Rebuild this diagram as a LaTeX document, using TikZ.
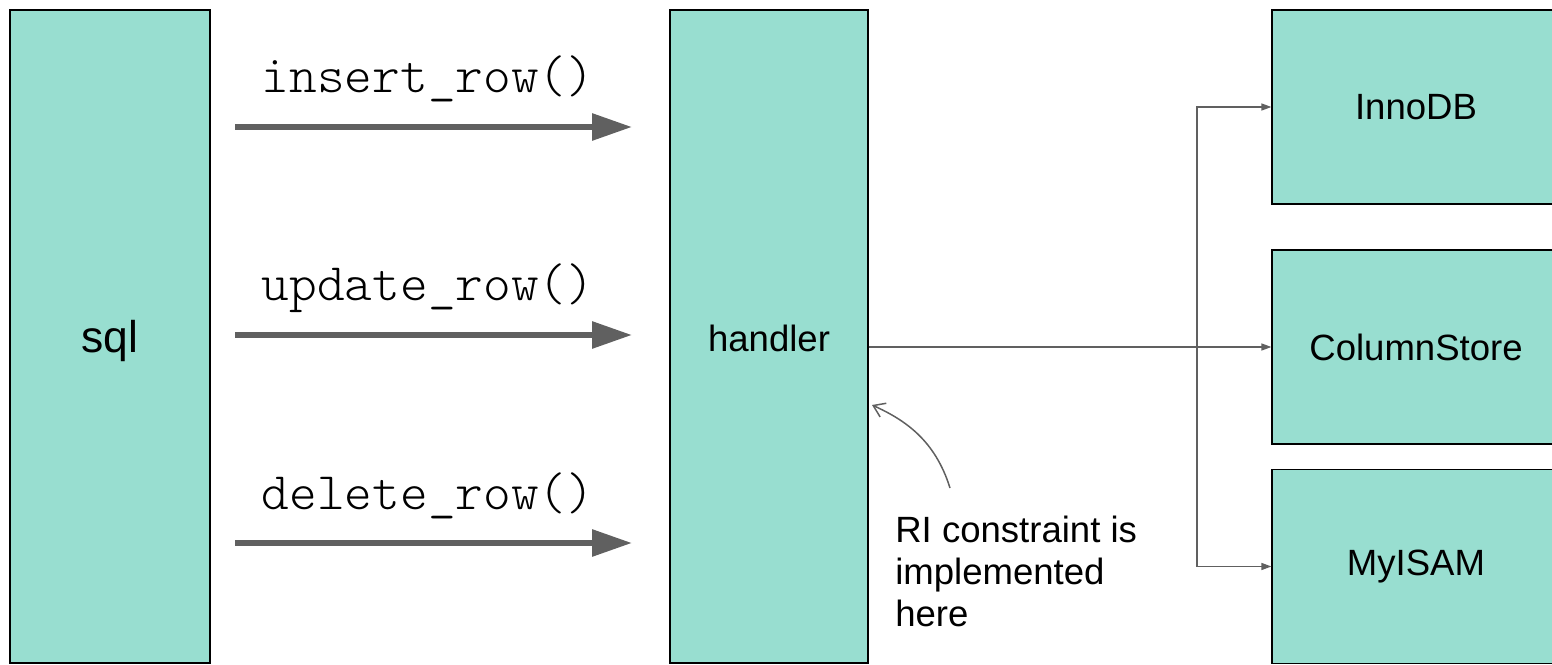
\documentclass[tikz,border=0pt]{standalone}
\usepackage{fontspec}
\setmainfont{Liberation Sans}
\setmonofont{Latin Modern Mono Light}
\usetikzlibrary{arrows.meta}
\definecolor{boxfill}{RGB}{152,222,208}
\definecolor{linegray}{RGB}{96,96,96}
\begin{document}
\begin{tikzpicture}[x=0.02cm,y=-0.02cm,
	box/.style={draw=black,line width=0.7pt,fill=boxfill,inner sep=0pt,font=\fontsize{20.8}{25}\selectfont},
	tall/.style={box,minimum width=4cm,minimum height=13.06cm},
	engine/.style={box,minimum width=5.76cm,minimum height=3.88cm},
	call/.style={line width=3.4pt,draw=linegray,-{Triangle[length=0.8cm,width=0.52cm]}},
	wire/.style={line width=0.75pt,draw=linegray,-{Triangle[length=0.2cm,width=0.14cm]}},
	fname/.style={anchor=base,inner sep=0pt,font=\fontsize{30}{34}\selectfont\ttfamily}]
	\useasboundingbox (0,0) rectangle (1552,665);
	% main blocks
	\node[tall,text depth=0pt,font=\fontsize{25.3}{30}\selectfont] (sql) at (110,336.5){sql};
	\node[tall,minimum width=3.96cm,text height=17pt,text depth=0pt] (hdl) at (769,336.5){handler};
	\node[engine] (inno) at (1416,107){InnoDB};
	\node[engine] (cs) at (1416,347){ColumnStore};
	\node[engine] (myi) at (1416,566.5){MyISAM};
	% calls from sql into the handler
	\foreach \y/\f in {127/insert,335/update,543/delete}{
		\coordinate (\f a) at (235,\y);
		\coordinate (\f b) at (632,\y);
		\draw[call] (\f a)--(\f b);
		\node[fname] (\f l) at (428,\y-34){\f\_row()};
	}
	% handler to the engines
	\coordinate (br) at (1197,0);
	\draw[wire] (hdl.east |- cs.west)--(cs.west);
	\draw[wire] (br |- myi.west)--(br |- inno.west)--(inno.west);
	\draw[wire] (br |- myi.west)--(myi.west);
	% note
	\node[anchor=north west,align=left,inner sep=0pt,font=\fontsize{20.8}{23.8}\selectfont] (ri) at (895,516){RI constraint is\\implemented\\here};
	\coordinate (ribase) at (950,488);
	\coordinate (ritip) at (872,405);
	\draw[line width=0.85pt,draw=linegray,-{Straight Barb[length=0.22cm,width=0.3cm]}] (ribase) .. controls (935,440) and (905,420) .. (ritip);
\end{tikzpicture}
\end{document}
